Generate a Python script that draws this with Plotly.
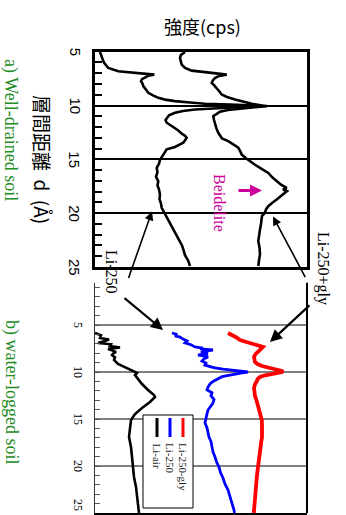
import plotly.graph_objects as go

# ---- a) well-drained soil: basal spacing d (Å) vs. intensity (cps) ----
d_a250 = [
    5.03, 5.30, 5.58, 5.80, 6.05, 6.30, 6.51, 6.81, 6.97, 7.08,
    7.13, 7.20, 7.37, 7.55, 7.74, 7.95, 8.20, 8.50, 8.82, 9.05,
    9.29, 9.45, 9.59, 9.72, 9.84, 9.92, 9.97, 10.03, 10.09, 10.15,
    10.25, 10.37, 10.50, 10.68, 10.90, 11.14, 11.35, 11.60, 11.80, 12.06,
    12.30, 12.61, 12.80, 12.99, 13.20, 13.45, 13.65, 13.85, 14.07, 14.30,
    14.54, 14.80, 15.03, 15.40, 15.80, 16.20, 16.60, 17.04, 17.40, 17.80,
    18.27, 18.70, 19.10, 19.50, 19.90, 20.28, 20.60, 20.89, 21.20, 21.67,
    22.10, 22.59, 23.00, 23.36, 23.90, 24.44, 24.91]
cps_a250 = [
    50, 58, 67, 80, 93, 115, 133, 233, 400, 520,
    593, 540, 500, 470, 460, 475, 483, 505, 533, 580,
    633, 700, 800, 950, 1100, 1350, 1500, 1667, 1560, 1400,
    1200, 1000, 880, 800, 740, 717, 705, 717, 750, 783,
    830, 867, 900, 917, 905, 883, 840, 800, 717, 700,
    683, 670, 650, 640, 617, 625, 610, 633, 625, 640,
    650, 645, 660, 667, 690, 717, 735, 750, 770, 800,
    820, 850, 870, 883, 900, 933, 950]

d_agly = [
    5.03, 5.30, 5.58, 5.90, 6.20, 6.50, 6.76, 6.97, 7.05, 7.13,
    7.25, 7.44, 7.65, 7.90, 8.10, 8.36, 8.65, 8.98, 9.20, 9.44,
    9.65, 9.84, 9.95, 10.06, 10.15, 10.28, 10.42, 10.58, 10.78, 10.98,
    11.35, 11.76, 12.15, 12.53, 12.83, 13.05, 13.30, 13.60, 13.92, 14.20,
    14.56, 14.90, 15.19, 15.50, 15.80, 16.05, 16.26, 16.65, 17.04, 17.35,
    17.65, 17.80, 17.95, 18.11, 18.40, 18.73, 19.05, 19.35, 19.65, 19.96,
    20.25, 20.58, 21.00, 21.51, 22.00, 22.59, 23.20, 23.82, 24.40, 24.91]
cps_agly = [
    900, 860, 850, 855, 867, 900, 967, 1167, 1250, 1317,
    1240, 1200, 1180, 1167, 1190, 1217, 1240, 1267, 1320, 1400,
    1480, 1567, 1640, 1720, 1600, 1433, 1330, 1250, 1210, 1183,
    1190, 1200, 1215, 1233, 1250, 1270, 1333, 1380, 1433, 1450,
    1467, 1510, 1550, 1600, 1650, 1690, 1733, 1770, 1817, 1860,
    1917, 1880, 1920, 1900, 1860, 1817, 1770, 1733, 1710, 1700,
    1670, 1667, 1660, 1650, 1640, 1633, 1645, 1650, 1640, 1633]

# ---- b) water-logged soil ----
d_bair = [
    5.85, 6.10, 6.38, 6.55, 6.70, 6.91, 7.05, 7.23, 7.40, 7.55,
    7.70, 7.87, 8.05, 8.19, 8.45, 8.72, 9.15, 9.57, 9.89, 10.10,
    10.32, 10.74, 11.28, 11.91, 12.45, 12.66, 13.19, 13.83, 14.47, 15.11,
    15.96, 16.91, 17.98, 19.04, 20.11, 21.17, 22.23, 23.30, 24.47, 25.00]
cps_bair = [
    0, 60, 50, 140, 100, 30, 160, 150, 250, 130,
    170, 210, 180, 170, 200, 190, 230, 310, 380, 420,
    400, 430, 470, 530, 590, 600, 550, 470, 400, 360,
    350, 340, 360, 370, 380, 390, 410, 420, 430, 440]

d_b250 = [
    5.85, 6.00, 6.15, 6.28, 6.50, 6.70, 6.91, 7.10, 7.34, 7.45,
    7.55, 7.66, 7.77, 7.90, 8.05, 8.19, 8.30, 8.40, 8.60, 8.83,
    9.05, 9.26, 9.45, 9.57, 9.70, 9.79, 9.90, 10.00, 10.10, 10.20,
    10.32, 10.50, 10.74, 11.00, 11.28, 11.60, 11.91, 12.20, 12.55, 12.90,
    13.30, 13.70, 14.04, 14.45, 14.89, 15.40, 15.96, 16.40, 16.91, 17.40,
    17.98, 18.50, 19.04, 19.55, 20.11, 20.70, 21.28, 21.90, 22.55, 23.20,
    23.83, 24.30, 24.68, 25.00]
cps_b250 = [
    770, 820, 800, 850, 880, 920, 900, 960, 1000, 1080,
    1050, 1180, 1100, 1060, 1130, 1030, 1100, 1130, 1090, 1070,
    1110, 1100, 1160, 1200, 1280, 1350, 1450, 1530, 1470, 1390,
    1350, 1270, 1220, 1180, 1150, 1130, 1120, 1170, 1160, 1190,
    1180, 1150, 1130, 1120, 1110, 1100, 1120, 1130, 1140, 1160,
    1170, 1180, 1200, 1215, 1240, 1255, 1280, 1300, 1330, 1350,
    1370, 1385, 1390, 1395]

d_bgly = [
    5.85, 6.06, 6.30, 6.60, 6.80, 7.02, 7.20, 7.34, 7.50, 7.70,
    7.87, 8.10, 8.40, 8.70, 8.94, 9.15, 9.36, 9.55, 9.68, 9.80,
    9.89, 10.00, 10.10, 10.21, 10.35, 10.53, 10.75, 10.96, 11.30, 11.70,
    12.10, 12.55, 13.00, 13.51, 14.00, 14.57, 15.10, 15.64, 16.30, 16.91,
    17.60, 18.30, 18.90, 19.57, 20.20, 20.96, 21.60, 22.34, 23.00, 23.62,
    24.20, 24.68, 25.00]
cps_bgly = [
    1330, 1370, 1410, 1450, 1520, 1600, 1660, 1680, 1665, 1645,
    1630, 1605, 1590, 1592, 1600, 1625, 1670, 1740, 1810, 1850,
    1870, 1880, 1820, 1760, 1700, 1650, 1625, 1620, 1600, 1590,
    1592, 1600, 1615, 1630, 1645, 1660, 1668, 1670, 1670, 1670,
    1660, 1650, 1645, 1640, 1630, 1620, 1615, 1610, 1605, 1600,
    1595, 1590, 1588]

d_ticks = [5, 10, 15, 20, 25]
legend_names = ["Li-250-gly", "Li-250", "Li-air"]
legend_colors = ["#ff0000", "#0000ff", "#000000"]

W, H = 346, 515
SERIF = "Liberation Serif"
SANS = "Liberation Sans"
CJK = "Noto Sans CJK JP"
GREEN = "#228b22"
MAGENTA = "#cc0099"


def px(x):
    return x / W


def py(y):
    return 1 - y / H


fig = go.Figure()

# panel a (two black patterns)
for xs, ys in [(cps_a250, d_a250), (cps_agly, d_agly)]:
    fig.add_trace(go.Scatter(x=xs, y=ys, mode="lines", xaxis="x", yaxis="y",
                             line=dict(color="black", width=2.6), hoverinfo="skip"))

# panel b (three coloured patterns)
for xs, ys, col, w in [(cps_bair, d_bair, legend_colors[2], 2.6),
                       (cps_b250, d_b250, legend_colors[1], 2.8),
                       (cps_bgly, d_bgly, legend_colors[0], 3.8)]:
    fig.add_trace(go.Scatter(x=xs, y=ys, mode="lines", xaxis="x2", yaxis="y2",
                             line=dict(color=col, width=w), hoverinfo="skip"))

fig.update_layout(
    width=W, height=H, margin=dict(l=0, r=0, t=0, b=0),
    plot_bgcolor="white", paper_bgcolor="white", showlegend=False,
    xaxis=dict(domain=[px(95), px(307)], range=[0, 2120], anchor="y",
               showticklabels=False, ticks="", showgrid=False, zeroline=False,
               showline=True, mirror=True, linecolor="black", linewidth=2.5),
    yaxis=dict(domain=[py(267), py(51.7)], range=[25, 5], anchor="x",
               tickvals=d_ticks, showticklabels=False,
               ticks="inside", ticklen=7, tickwidth=1.5, tickcolor="black",
               minor=dict(tick0=0, dtick=1, ticks="inside", ticklen=7,
                          tickwidth=1.5, tickcolor="black"),
               showgrid=True, gridcolor="black", gridwidth=2, zeroline=False,
               showline=True, mirror=True, linecolor="black", linewidth=2.5),
    xaxis2=dict(domain=[px(95), px(307)], range=[0, 2120], anchor="y2",
                showticklabels=False, ticks="", showgrid=False, zeroline=False,
                showline=True, linecolor="black", linewidth=2),
    yaxis2=dict(domain=[py(513), py(282.7)], range=[25, 0.5], anchor="x2",
                tickvals=d_ticks, showticklabels=False,
                ticks="inside", ticklen=5, tickwidth=1, tickcolor="#555",
                minor=dict(tick0=0, dtick=1, ticks="inside", ticklen=5,
                           tickwidth=1, tickcolor="#555"),
                showgrid=True, gridcolor="#808080", gridwidth=1.5, zeroline=False,
                showline=True, linecolor="#333", linewidth=1),
)

shapes = [
    # right border of panel b
    dict(type="line", xref="x2 domain", yref="y2 domain", x0=1, x1=1, y0=0, y1=1,
         line=dict(color="black", width=2)),
    # legend frame
    dict(type="rect", xref="paper", yref="paper", x0=px(143), x1=px(193),
         y0=py(508), y1=py(415), line=dict(color="black", width=1),
         fillcolor="white", layer="above"),
]
legend_x = [183, 170, 157]
for lx, col in zip(legend_x, legend_colors):
    shapes.append(dict(type="line", xref="paper", yref="paper", x0=px(lx), x1=px(lx),
                       y0=py(437), y1=py(418), line=dict(color=col, width=3),
                       layer="above"))
fig.update_layout(shapes=shapes)

ann = []


def rot_text(text, x, y, size, family, color="black"):
    ann.append(dict(text=text, x=px(x), y=py(y), xref="paper", yref="paper",
                    showarrow=False, textangle=90,
                    xanchor="center", yanchor="middle",
                    font=dict(size=size, family=family, color=color)))


# titles
ann.append(dict(text="強度(cps)", x=px(202), y=py(26), xref="paper", yref="paper",
                showarrow=False, xanchor="center", yanchor="middle",
                font=dict(size=18, family=CJK, color="black")))
rot_text("層間距離  d  (Å)", 43, 159, 19, CJK)
rot_text("a) Well-drained soil", 11, 130, 18, SERIF, GREEN)
rot_text("b) water-logged soil", 12, 392, 18, SERIF, GREEN)

# tick labels
for t in d_ticks:
    ann.append(dict(text=str(t), x=px(75), y=t, xref="paper", yref="y",
                    showarrow=False, textangle=90, xanchor="center", yanchor="middle",
                    font=dict(size=15, family=SANS, color="black")))
    ann.append(dict(text=str(t), x=px(78), y=t, xref="paper", yref="y2",
                    showarrow=False, textangle=90, xanchor="center",
                    yanchor="bottom" if t == 25 else "middle",
                    font=dict(size=12, family=SERIF, color="black")))

# sample labels
rot_text("Li-250", 112, 272, 16, SERIF)
rot_text("Li-250+gly", 323, 268, 16, SERIF)
rot_text("Beidelite", 220, 203, 16, SERIF, MAGENTA)

# legend entries
for lx, name in zip(legend_x, legend_names):
    ann.append(dict(text=name, x=px(lx), y=py(441), xref="paper", yref="paper",
                    showarrow=False, textangle=90, xanchor="center", yanchor="top",
                    font=dict(size=11, family=SERIF, color="#222")))

# pointer arrows (head on the pattern, tail near the label)
arrows = [
    ("x", "y", 570, 19.84, -24, 68, "black", 1.6),
    ("x", "y", 1780, 20.31, 33, 62, "black", 1.6),
    ("x2", "y2", 680, 5.53, -40, -33, "black", 2.2),
    ("x2", "y2", 1750, 6.81, 41, -38, "black", 2.2),
    ("x", "y", 1670, 17.9, -25, 0, MAGENTA, 3),
]
for xr, yr, hx, hy, ax, ay, col, w in arrows:
    ann.append(dict(text="", x=hx, y=hy, xref=xr, yref=yr, ax=ax, ay=ay,
                    showarrow=True, arrowhead=2, arrowsize=1.1 if col != MAGENTA else 0.8,
                    arrowwidth=w, arrowcolor=col, standoff=0))

fig.update_layout(annotations=ann)
fig.write_html("out.html")
